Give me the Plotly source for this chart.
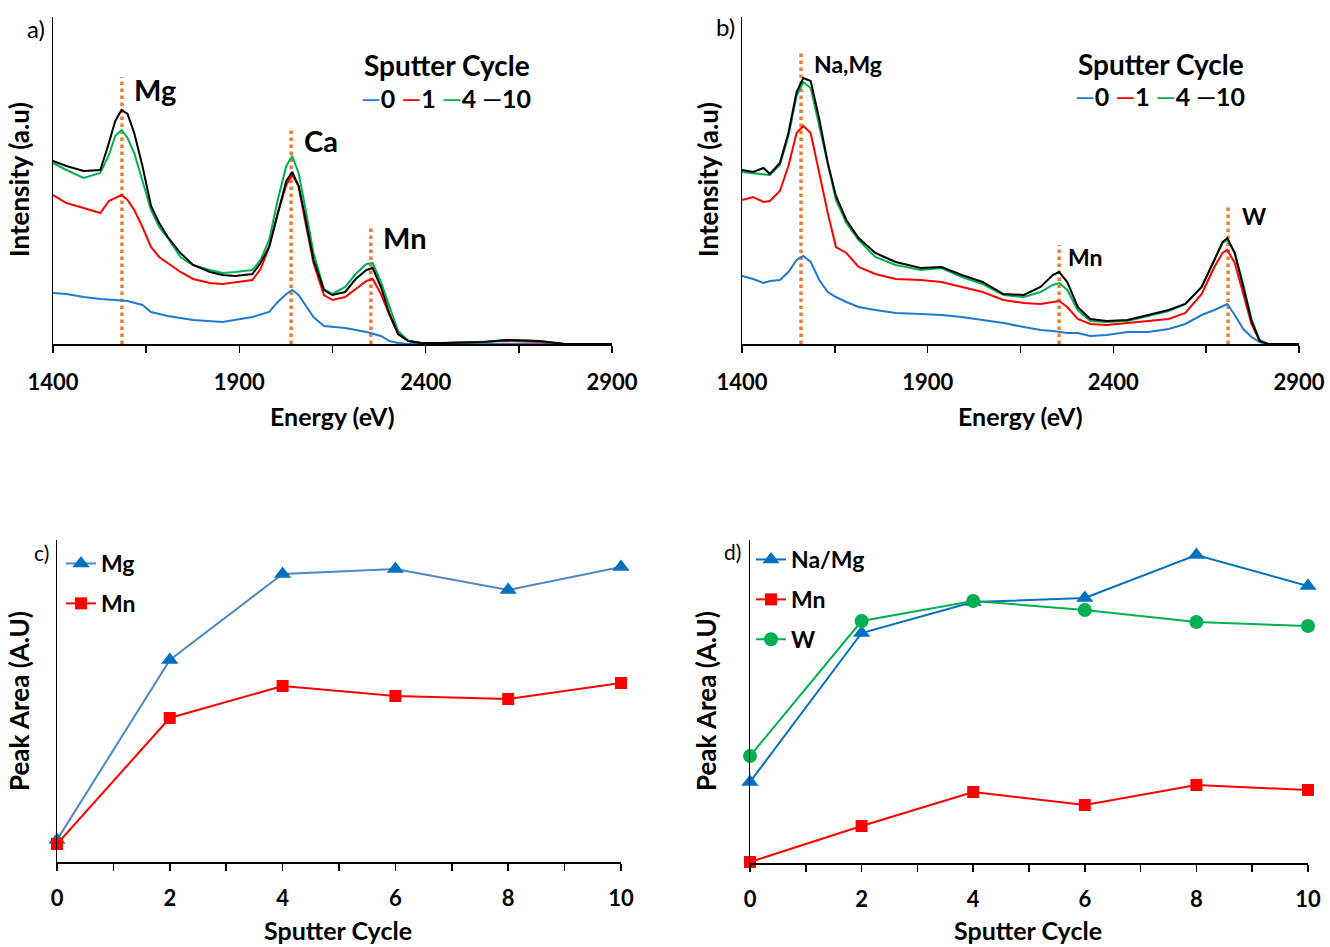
import plotly.graph_objects as go

W, H = 1330, 947
FONT = "Lato"

# ---------------- Panel a: spectra ----------------
a_energy = [1400, 1436, 1482, 1527, 1550, 1567, 1584, 1600, 1618, 1640, 1663, 1685, 1708, 1742, 1776,
            1821, 1855, 1889, 1935, 1957, 1980, 2003, 2026, 2042, 2059, 2076, 2099, 2127, 2150, 2184,
            2212, 2241, 2258, 2280, 2303, 2326, 2354, 2388, 2450, 2558, 2615, 2705, 2773, 2900]
a_cycle10 = [183, 178, 173, 174, 201, 223, 234, 230, 211, 178, 138, 121, 107, 91, 79,
             72, 69, 68, 70, 81, 97, 131, 163, 172, 158, 128, 84, 54, 49, 52,
             65, 74, 76, 57, 30, 10, 3, 1, 1, 2, 4, 3, 0, 0]
a_cycle4 = [181, 174, 166, 171, 189, 208, 214, 206, 191, 164, 134, 117, 106, 87, 79,
            74, 71, 72, 74, 84, 104, 144, 178, 188, 171, 138, 91, 55, 50, 57,
            70, 80, 81, 62, 37, 13, 3, 1, 1, 2, 4, 3, 0, 0]
a_cycle1 = [149, 141, 136, 131, 143, 146, 149, 144, 134, 117, 97, 87, 81, 72, 65,
            61, 60, 62, 64, 75, 97, 131, 159, 169, 158, 124, 81, 49, 44, 47,
            55, 63, 65, 50, 29, 10, 3, 1, 1, 2, 3, 2, 0, 0]
a_energy0 = [1400, 1436, 1482, 1527, 1567, 1600, 1640, 1663, 1708, 1776, 1855, 1935, 1980, 2003,
             2026, 2042, 2059, 2076, 2099, 2127, 2184, 2241, 2280, 2303, 2326, 2354, 2900]
a_cycle0 = [51, 50, 47, 45, 44, 43, 39, 32, 28, 24, 22, 27, 32, 42,
            50, 54, 49, 40, 27, 18, 16, 12, 8, 3, 1, 0, 0]

a_peak_names = ["Mg", "Ca", "Mn"]
a_peak_energy = [1585, 2039, 2253]
a_peak_top = [267, 216, 116]
a_label_x = [1613, 2068, 2280]
a_label_y = [254, 203, 106]

# ---------------- Panel b: spectra ----------------
b_energy = [1400, 1430, 1458, 1475, 1502, 1525, 1547, 1565, 1585, 1608, 1631, 1653, 1681, 1714, 1759,
            1814, 1881, 1937, 1992, 2048, 2104, 2159, 2204, 2237, 2254, 2276, 2304, 2338, 2382, 2438,
            2494, 2549, 2594, 2638, 2672, 2694, 2707, 2727, 2750, 2772, 2794, 2816, 2900]
b_cycle10 = [174, 172, 176, 170, 181, 211, 252, 266, 263, 225, 181, 148, 124, 106, 91,
             82, 76, 77, 69, 62, 50, 49, 57, 69, 72, 62, 37, 25, 23, 24,
             29, 34, 40, 57, 84, 102, 106, 91, 57, 23, 3, 0, 0]
b_cycle4 = [172, 171, 170, 169, 179, 208, 248, 262, 256, 218, 178, 144, 121, 104, 87,
            79, 74, 76, 67, 60, 49, 47, 52, 59, 61, 54, 34, 23, 22, 23,
            28, 33, 40, 57, 84, 101, 104, 91, 59, 25, 4, 0, 0]
b_cycle1 = [144, 147, 142, 143, 153, 178, 211, 218, 211, 171, 131, 97, 91, 77, 70,
            65, 64, 62, 57, 52, 44, 41, 40, 42, 43, 37, 25, 20, 19, 21,
            23, 25, 31, 50, 77, 91, 94, 81, 50, 20, 3, 0, 0]
b_cycle0 = [68, 65, 61, 63, 64, 72, 84, 88, 82, 64, 52, 47, 42, 37, 34,
            31, 30, 29, 27, 24, 21, 17, 14, 13, 12, 11, 11, 8, 9, 12,
            12, 15, 20, 29, 34, 38, 40, 29, 15, 7, 2, 0, 0]

b_peak_names = ["Na,Mg", "Mn", "W"]
b_peak_energy = [1559, 2254, 2709]
b_peak_top = [294, 99, 140]
b_label_x = [1588, 2272, 2741]
b_label_y = [280, 87, 128]

energy_ticks = [1400, 1650, 1900, 2150, 2400, 2650, 2900]
energy_ticktext = ["1400", "", "1900", "", "2400", "", "2900"]

cycle_names = ["0", "1", "4", "10"]
cycle_colors = ["#1f7ad0", "#ff0000", "#00b050", "#000000"]

# ---------------- Panel c / d: peak areas ----------------
cycles = [0, 2, 4, 6, 8, 10]
c_mg = [22, 202, 288, 293, 272, 295]
c_mn = [18, 144, 176, 166, 163, 179]
d_namg = [81, 230, 261, 265, 308, 277]
d_mn = [1, 37, 71, 58, 78, 73]
d_w = [107, 242, 262, 253, 241, 237]
cycle_ticks = list(range(0, 11))
cycle_ticktext = [str(v) if v % 2 == 0 else "" for v in cycle_ticks]

PEAK_COLOR = "#ed7d31"

fig = go.Figure()

def add_spectra(xs_list, ys_list, xa, ya):
    for name, color, xs, ys in zip(cycle_names, cycle_colors, xs_list, ys_list):
        fig.add_trace(go.Scatter(x=xs, y=ys, mode="lines", name=name,
                                 line=dict(color=color, width=2),
                                 xaxis=xa, yaxis=ya, showlegend=False))

def add_peaks(energies, tops, xa, ya):
    for e, t in zip(energies, tops):
        fig.add_trace(go.Scatter(x=[e, e], y=[0, t], mode="lines",
                                 line=dict(color=PEAK_COLOR, width=3.5, dash="dot"),
                                 xaxis=xa, yaxis=ya, showlegend=False, hoverinfo="skip"))

add_peaks(a_peak_energy, a_peak_top, "x", "y")
add_spectra([a_energy0, a_energy, a_energy, a_energy],
            [a_cycle0, a_cycle1, a_cycle4, a_cycle10], "x", "y")
add_peaks(b_peak_energy, b_peak_top, "x2", "y2")
add_spectra([b_energy] * 4, [b_cycle0, b_cycle1, b_cycle4, b_cycle10], "x2", "y2")

BLUE_M = "#0070c0"
fig.add_trace(go.Scatter(x=cycles, y=c_mg, mode="lines+markers", name="Mg",
                         line=dict(color="#4f86c6", width=2),
                         marker=dict(symbol="triangle-up", size=15, color=BLUE_M),
                         xaxis="x3", yaxis="y3", legend="legend3", legendgroup="c1",
                         cliponaxis=False))
fig.add_trace(go.Scatter(x=cycles, y=c_mn, mode="lines+markers", name="Mn",
                         line=dict(color="#ff0000", width=2),
                         marker=dict(symbol="square", size=12, color="#ff0000"),
                         xaxis="x3", yaxis="y3", legend="legend3", legendgroup="c2",
                         cliponaxis=False))
fig.add_trace(go.Scatter(x=cycles, y=d_namg, mode="lines+markers", name="Na/Mg",
                         line=dict(color=BLUE_M, width=2),
                         marker=dict(symbol="triangle-up", size=15, color=BLUE_M),
                         xaxis="x4", yaxis="y4", legend="legend4", legendgroup="d1",
                         cliponaxis=False))
fig.add_trace(go.Scatter(x=cycles, y=d_mn, mode="lines+markers", name="Mn",
                         line=dict(color="#ff0000", width=2),
                         marker=dict(symbol="square", size=12, color="#ff0000"),
                         xaxis="x4", yaxis="y4", legend="legend4", legendgroup="d2",
                         cliponaxis=False))
fig.add_trace(go.Scatter(x=cycles, y=d_w, mode="lines+markers", name="W",
                         line=dict(color="#00b050", width=2),
                         marker=dict(symbol="circle", size=14, color="#00b050"),
                         xaxis="x4", yaxis="y4", legend="legend4", legendgroup="d3",
                         cliponaxis=False))

def px(x):
    return x / W

def py(y):
    return 1 - y / H

def xaxis_cfg(dom, anchor, rng, tv, tt, standoff):
    return dict(domain=dom, anchor=anchor, range=rng, tickvals=tv, ticktext=tt,
                showline=True, linecolor="black", linewidth=1.5, mirror=False,
                ticks="outside", ticklen=7, tickwidth=1.5, tickcolor="black",
                showgrid=False, zeroline=False, automargin=False,
                tickfont=dict(family=FONT, size=22, color="black", weight="bold"),
                ticklabelstandoff=standoff, fixedrange=True)

def yaxis_cfg(dom, anchor, rng):
    return dict(domain=dom, anchor=anchor, range=rng, showline=True, linecolor="black",
                linewidth=1.5, showticklabels=False, ticks="", showgrid=False,
                zeroline=False, automargin=False, fixedrange=True)

top_dom = [py(344), py(17)]
legend_font = dict(family=FONT, size=23, color="black", weight="bold")
fig.update_layout(
    width=W, height=H, margin=dict(l=0, r=0, t=0, b=0, autoexpand=False),
    paper_bgcolor="white", plot_bgcolor="white",
    font=dict(family=FONT, color="black"),
    xaxis=xaxis_cfg([px(53), px(612)], "y", [1400, 2900], energy_ticks, energy_ticktext, 11),
    yaxis=yaxis_cfg(top_dom, "x", [0, 327]),
    xaxis2=xaxis_cfg([px(742), px(1299)], "y2", [1400, 2900], energy_ticks, energy_ticktext, 11),
    yaxis2=yaxis_cfg(top_dom, "x2", [0, 327]),
    xaxis3=xaxis_cfg([px(57), px(621)], "y3", [0, 10], cycle_ticks, cycle_ticktext, 9),
    yaxis3=yaxis_cfg([py(862), py(540)], "x3", [0, 322]),
    xaxis4=xaxis_cfg([px(750), px(1308)], "y4", [0, 10], cycle_ticks, cycle_ticktext, 9),
    yaxis4=yaxis_cfg([py(863), py(540)], "x4", [0, 323]),
    legend3=dict(x=px(61), y=py(542), xanchor="left", yanchor="top",
                 bgcolor="rgba(0,0,0,0)", tracegroupgap=7, itemwidth=30,
                 font=legend_font),
    legend4=dict(x=px(751), y=py(538), xanchor="left", yanchor="top",
                 bgcolor="rgba(0,0,0,0)", tracegroupgap=7, itemwidth=30,
                 font=legend_font),
)

ann = []
# peak labels
for name, x, y in zip(a_peak_names, a_label_x, a_label_y):
    ann.append(dict(x=x, y=y, xref="x", yref="y", text=name, showarrow=False,
                    xanchor="left", yanchor="middle",
                    font=dict(family=FONT, size=29, color="black", weight="bold")))
for name, x, y in zip(b_peak_names, b_label_x, b_label_y):
    ann.append(dict(x=x, y=y, xref="x2", yref="y2", text=name, showarrow=False,
                    xanchor="left", yanchor="middle",
                    font=dict(family=FONT, size=23, color="black", weight="bold")))

# spectra legends ("Sputter Cycle")
legend_row = "".join(
    f'<span style="color:{c};font-weight:normal">\u2014</span>{n}' + ("" if i == len(cycle_names) - 1 else " ")
    for i, (n, c) in enumerate(zip(cycle_names, cycle_colors)))
for lx, ty, ry in [(362, 65, 98), (1076, 64, 96)]:
    ann.append(dict(x=px(lx), y=py(ty), xref="paper", yref="paper", text="Sputter Cycle",
                    showarrow=False, xanchor="left", yanchor="middle",
                    font=dict(family=FONT, size=28, color="black", weight="bold")))
    ann.append(dict(x=px(lx - 3), y=py(ry), xref="paper", yref="paper", text=legend_row,
                    showarrow=False, xanchor="left", yanchor="middle",
                    font=dict(family=FONT, size=25, color="black", weight="bold")))

# axis titles
for cx, cy, txt in [(332, 416, "Energy (eV)"), (1020, 416, "Energy (eV)"),
                    (338, 930, "Sputter Cycle"), (1028, 930, "Sputter Cycle")]:
    ann.append(dict(x=px(cx), y=py(cy), xref="paper", yref="paper", text=txt,
                    showarrow=False, xanchor="center", yanchor="middle",
                    font=dict(family=FONT, size=25, color="black", weight="bold")))
for cx, cy, txt in [(19, 180, "Intensity (a.u)"), (708, 180, "Intensity (a.u)"),
                    (19, 701, "Peak Area (A.U)"), (706, 701, "Peak Area (A.U)")]:
    ann.append(dict(x=px(cx), y=py(cy), xref="paper", yref="paper", text=txt, textangle=-90,
                    showarrow=False, xanchor="center", yanchor="middle",
                    font=dict(family=FONT, size=26, color="black", weight="bold")))

# panel letters
for cx, cy, txt, s in [(36, 28, "a)", 24), (725, 26, "b)", 24), (41, 552, "c)", 21), (733, 551, "d)", 21)]:
    ann.append(dict(x=px(cx), y=py(cy), xref="paper", yref="paper", text=txt,
                    showarrow=False, xanchor="center", yanchor="middle",
                    font=dict(family=FONT, size=s, color="black")))

fig.update_layout(annotations=ann)
fig.write_html("out.html",
               config={"displayModeBar": False, "staticPlot": True},
               post_script="document.body.style.margin='0';document.body.style.overflow='hidden';")
